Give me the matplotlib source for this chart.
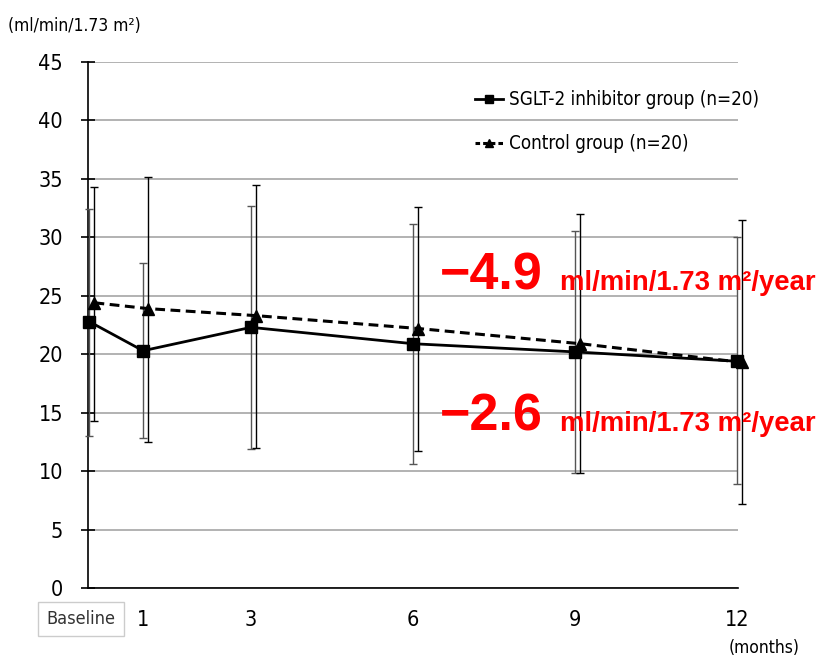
import matplotlib
matplotlib.use("Agg")
import matplotlib.pyplot as plt
from matplotlib import font_manager as fm
from matplotlib.lines import Line2D
from matplotlib.transforms import ScaledTranslation

# data
months = [0, 1, 3, 6, 9, 12]
month_labels = ["Baseline", "1", "3", "6", "9", "12"]

sglt_mean = [22.8, 20.3, 22.3, 20.9, 20.2, 19.4]
sglt_upper = [32.4, 27.8, 32.7, 31.1, 30.5, 30.0]
sglt_lower = [13.0, 12.8, 11.9, 10.6, 9.8, 8.9]

ctrl_mean = [24.4, 23.9, 23.3, 22.2, 20.9, 19.3]
ctrl_upper = [34.3, 35.2, 34.5, 32.6, 32.0, 31.5]
ctrl_lower = [14.3, 12.5, 12.0, 11.7, 9.8, 7.2]

slope_ctrl = "\u22124.9"
slope_sglt = "\u22122.6"
slope_unit = "ml/min/1.73 m\u00b2/year"


def find_narrow():
    # look for a condensed sans face, the labels in the picture are narrow
    for key in ("liberationsansnarrow-regular", "liberationsansnarrow", "dejavusanscondensed.ttf"):
        for f in fm.fontManager.ttflist:
            name = f.fname.lower().replace("_", "").replace(" ", "")
            if key in name.split("/")[-1] and f.style == "normal":
                return f
    return None


nf = find_narrow()
if nf is not None:
    plt.rcParams["font.family"] = [nf.name, "DejaVu Sans"]
    plt.rcParams["font.stretch"] = nf.stretch
    scale = 1.0
else:
    plt.rcParams["font.family"] = ["Liberation Sans", "DejaVu Sans"]
    scale = 0.85

fig = plt.figure(figsize=(8.39, 6.61), dpi=100)
ax = fig.add_axes([0.1049, 0.1104, 0.7747, 0.7958])

ctrl_x = [m + 0.1 for m in months]

ax.errorbar(months, sglt_mean,
            yerr=[[m - l for m, l in zip(sglt_mean, sglt_lower)],
                  [u - m for m, u in zip(sglt_mean, sglt_upper)]],
            fmt="none", ecolor="#555555", elinewidth=1.0, capsize=3, capthick=1.0,
            zorder=3, clip_on=False)
ax.errorbar(ctrl_x, ctrl_mean,
            yerr=[[m - l for m, l in zip(ctrl_mean, ctrl_lower)],
                  [u - m for m, u in zip(ctrl_mean, ctrl_upper)]],
            fmt="none", ecolor="black", elinewidth=1.0, capsize=3, capthick=1.0,
            zorder=3, clip_on=False)

ax.plot(months, sglt_mean, color="black", lw=2.0, marker="s", ms=8,
        zorder=5, clip_on=False)
ax.plot(ctrl_x, ctrl_mean, color="black", lw=2.2, ls=(0, (3.2, 1.8)), marker="^",
        ms=8, zorder=5, clip_on=False)

ax.set_xlim(-0.02, 12.02)
ax.set_ylim(0, 45)
ax.set_yticks(range(0, 46, 5))
ax.yaxis.grid(True, color="#a6a6a6", lw=1.2)
ax.set_axisbelow(True)
for s in ["top", "right"]:
    ax.spines[s].set_visible(False)
ax.spines["left"].set_linewidth(1.2)
ax.spines["bottom"].set_linewidth(1.2)
ax.tick_params(axis="y", direction="inout", length=10, width=1.2,
               labelsize=15.5 * scale, pad=13)

ax.set_xticks(months)
ax.set_xticklabels(month_labels)
ax.tick_params(axis="x", which="major", length=0, labelsize=15.5 * scale, pad=16)
ax.set_xticks([0, 3, 6, 9, 12], minor=True)
ax.tick_params(axis="x", which="minor", direction="in", length=9, width=1.0)

base = ax.get_xticklabels()[0]
base.set_fontsize(13 * scale)
base.set_color("#333333")
base.set_bbox(dict(facecolor="white", edgecolor="#cccccc", boxstyle="square,pad=0.45"))
base.set_transform(base.get_transform() + ScaledTranslation(-0.08, 0, fig.dpi_scale_trans))

fig.text(0.01, 0.975, "(ml/min/1.73 m\u00b2)", fontsize=12.5 * scale, va="top", ha="left")
fig.text(0.953, 0.006, "(months)", fontsize=12.5 * scale, va="bottom", ha="right")

handles = [
    Line2D([], [], color="black", lw=2.0, marker="s", ms=6),
    Line2D([], [], color="black", lw=2.2, ls=(0, (1.5, 1.0)), marker="^", ms=6),
]
ax.legend(handles, ["SGLT-2 inhibitor group (n=20)", "Control group (n=20)"],
          loc="upper left", bbox_to_anchor=(0.557, 0.875), bbox_transform=fig.transFigure,
          frameon=False, fontsize=13.5 * scale, handlelength=1.5, handletextpad=0.3,
          labelspacing=1.35, borderaxespad=0)

bold = ["Liberation Sans", "DejaVu Sans"]
fig.text(0.524, 0.562, slope_ctrl, color="red", fontsize=37.5, fontweight="bold",
         family=bold, stretch="normal", va="baseline")
fig.text(0.668, 0.562, slope_unit, color="red", fontsize=19.8, fontweight="bold",
         family=bold, stretch="normal", va="baseline")
fig.text(0.524, 0.348, slope_sglt, color="red", fontsize=37.5, fontweight="bold",
         family=bold, stretch="normal", va="baseline")
fig.text(0.668, 0.348, slope_unit, color="red", fontsize=19.8, fontweight="bold",
         family=bold, stretch="normal", va="baseline")

fig.savefig("out.png", dpi=100)
